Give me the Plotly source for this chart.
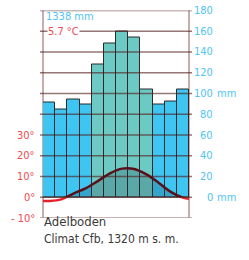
import plotly.graph_objects as go

months = ["Jan", "Feb", "Mar", "Apr", "May", "Jun", "Jul", "Aug", "Sep", "Oct", "Nov", "Dec"]
precip_mm = [91, 85, 94, 89, 128, 148, 160, 154, 104, 89, 92, 104]
temp_c = [-1.8, -1.0, 1.8, 4.3, 7.8, 11.5, 13.8, 13.6, 11.0, 7.0, 2.6, -0.2]
temp_start, temp_end = -1.8, -0.7
mm_ticks = [0, 20, 40, 60, 80, 100, 120, 140, 160, 180]
temp_ticks = [-10, 0, 10, 20, 30]
total_mm = "1338"
mean_temp = "5.7"
station = "Adelboden"
subtitle = "Climat Cfb, 1320 m s. m."

W, H = 249, 260
L, R, T, B = 43, 189, 10.5, 218
xd = [L / W, R / W]
y0, y1 = (H - B) / H, (H - T) / H
ph = y1 - y0
yzero = y0 + 0.1 * ph

FONT = "DejaVu Sans Condensed, Liberation Sans Narrow, sans-serif"
BLUE = "#3ec5f1"
TEAL = "#6dc9c3"
TXTBLUE = "#4fc3f2"
RED = "#ee4a4f"
DARK = "#5a1018"
GRID = "rgba(80,25,25,0.6)"
BORDER = "#b89a9a"

warm = [m in ("May", "Jun", "Jul", "Aug", "Sep") for m in months]
bar_colors = [TEAL if w else BLUE for w in warm]
xs = [i + 0.5 for i in range(len(months))]
tx = [0] + xs + [12]
ty = [temp_start] + temp_c + [temp_end]

fig = go.Figure()
fig.add_trace(go.Bar(x=xs, y=precip_mm, width=1.0, marker=dict(color=bar_colors, line=dict(color="#2a2a2a", width=1)),
                     xaxis="x", yaxis="y", hoverinfo="skip"))
fig.add_trace(go.Scatter(x=tx, y=ty, mode="lines", line=dict(color=DARK, width=2.5, shape="spline", smoothing=1),
                         fill="tozeroy", fillcolor="rgba(20,40,60,0.2)", xaxis="x2", yaxis="y3", hoverinfo="skip"))
fig.add_trace(go.Scatter(x=tx, y=ty, mode="lines", line=dict(color="#e8202a", width=2.5, shape="spline", smoothing=1),
                         xaxis="x3", yaxis="y4", hoverinfo="skip"))

shapes = []
for v in mm_ticks:
    shapes.append(dict(type="line", xref="paper", yref="y", x0=40 / W, x1=192 / W, y0=v, y1=v,
                       line=dict(color=GRID, width=1.6), layer="above"))
shapes.append(dict(type="line", xref="paper", yref="y", x0=40 / W, x1=192 / W, y0=-20, y1=-20,
                   line=dict(color=BORDER, width=1.6), layer="above"))
for xv in (L, R):
    shapes.append(dict(type="line", xref="paper", yref="paper", x0=xv / W, x1=xv / W, y0=y0, y1=y1,
                       line=dict(color=BORDER, width=1.6), layer="below"))
fig.update_layout(shapes=shapes)

LAB = 11
ann = []
for v in mm_ticks:
    ann.append(dict(x=215 / W, y=v, xref="paper", yref="y", text=str(v), showarrow=False, xanchor="right",
                    font=dict(family=FONT, size=LAB, color=TXTBLUE)))
    if v in (0, 100):
        ann.append(dict(x=215 / W, y=v, xref="paper", yref="y", text="mm", showarrow=False, xanchor="left",
                        font=dict(family=FONT, size=LAB, color=TXTBLUE)))
for v in temp_ticks:
    ann.append(dict(x=37 / W, y=v, xref="paper", yref="y2", text=f"{v}°".replace("-", "- "), showarrow=False,
                    xanchor="right", font=dict(family=FONT, size=LAB, color=RED)))
ann.append(dict(x=44 / W, y=(H - 17) / H, xref="paper", yref="paper", text=f"{total_mm} mm", showarrow=False,
                xanchor="left", yanchor="middle", height=11,
                font=dict(family=FONT, size=LAB, color=TXTBLUE)))
ann.append(dict(x=64 / W, y=160, xref="paper", yref="y", text=f"{mean_temp} °C", showarrow=False,
                xanchor="center", yanchor="middle", bgcolor="white", borderpad=0, height=11,
                font=dict(family=FONT, size=LAB, color=RED)))
ann.append(dict(x=42 / W, y=(H - 231) / H, xref="paper", yref="paper", text=station, showarrow=False,
                xanchor="left", font=dict(family=FONT, size=13, color="#3a3a3a")))
ann.append(dict(x=42 / W, y=(H - 248) / H, xref="paper", yref="paper", text=subtitle, showarrow=False,
                xanchor="left", font=dict(family=FONT, size=12, color="#3a3a3a")))

hid = dict(visible=False, showgrid=False, zeroline=False, fixedrange=True)
fig.update_layout(
    width=W, height=H, margin=dict(l=0, r=0, t=0, b=0),
    paper_bgcolor="white", plot_bgcolor="rgba(0,0,0,0)", showlegend=False, bargap=0,
    annotations=ann,
    xaxis=dict(domain=xd, range=[0, 12], **hid),
    yaxis=dict(domain=[y0, y1], range=[-20, 180], **hid),
    yaxis2=dict(overlaying="y", range=[-10, 90], **hid),
    xaxis2=dict(domain=xd, range=[0, 12], anchor="y3", **hid),
    yaxis3=dict(domain=[yzero, y1], range=[0, 90], anchor="x2", **hid),
    xaxis3=dict(domain=xd, range=[0, 12], anchor="y4", **hid),
    yaxis4=dict(domain=[y0, yzero], range=[-10, 0], anchor="x3", **hid),
)
fig.write_html("out.html", config={"displayModeBar": False},
               post_script="document.body.style.margin='0';document.body.style.padding='0';")
